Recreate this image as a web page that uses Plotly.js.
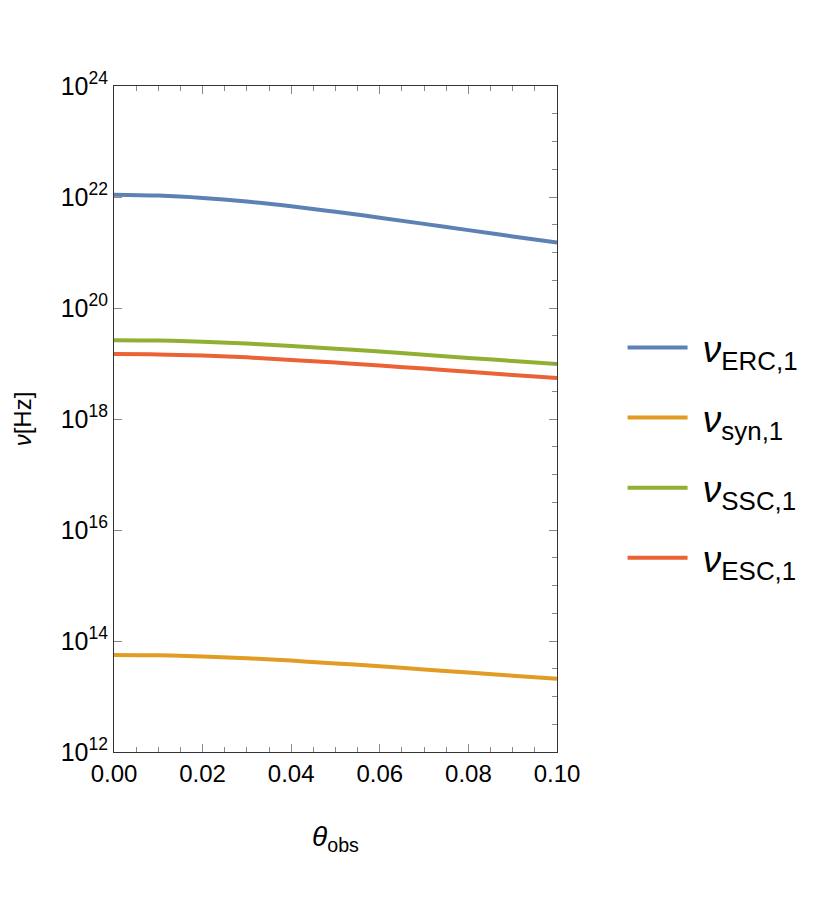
<!DOCTYPE html>
<html>
<head>
<meta charset="utf-8">
<script src="https://cdn.plot.ly/plotly-3.0.1.min.js"></script>
<style>html,body{margin:0;padding:0;background:#fff;}#chart{width:830px;height:916px;}</style>
</head>
<body>
<div id="chart"></div>
<script>
// theta_obs values
const theta = [0, 0.01, 0.02, 0.03, 0.04, 0.05, 0.06, 0.07, 0.08, 0.09, 0.10];
// frequencies [Hz]
const nuERC = [1.10e22, 1.06e22, 9.6e21, 8.26e21, 6.79e21, 5.42e21, 4.24e21, 3.28e21, 2.53e21, 1.95e21, 1.51e21];
const nuSyn = [5.62e13, 5.53e13, 5.27e13, 4.89e13, 4.43e13, 3.95e13, 3.50e13, 3.08e13, 2.70e13, 2.37e13, 2.09e13];
const nuSSC = [2.63e19, 2.59e19, 2.47e19, 2.29e19, 2.07e19, 1.85e19, 1.64e19, 1.44e19, 1.26e19, 1.11e19, 9.8e18];
const nuESC = [1.48e19, 1.46e19, 1.39e19, 1.29e19, 1.16e19, 1.04e19, 9.2e18, 8.1e18, 7.1e18, 6.2e18, 5.5e18];

const seriesNames = ['\u00A0<i>ν</i><sub>ERC,1</sub>', '\u00A0<i>ν</i><sub>syn,1</sub>', '\u00A0<i>ν</i><sub>SSC,1</sub>', '\u00A0<i>ν</i><sub>ESC,1</sub>'];
const seriesColors = ['#5E81B5', '#E19C24', '#8FB032', '#EB6235'];
const seriesData = [nuERC, nuSyn, nuSSC, nuESC];

const yTickVals = [1e12, 1e14, 1e16, 1e18, 1e20, 1e22, 1e24];
const yTickText = ['10<sup>12</sup>', '10<sup>14</sup>', '10<sup>16</sup>', '10<sup>18</sup>', '10<sup>20</sup>', '10<sup>22</sup>', '10<sup>24</sup>'];
const xTickVals = [0, 0.02, 0.04, 0.06, 0.08, 0.10];
const xTickText = ['0.00', '0.02', '0.04', '0.06', '0.08', '0.10'];

const traces = seriesData.map((d, i) => ({
  x: theta, y: d, type: 'scatter', mode: 'lines',
  name: seriesNames[i], legendgroup: 'g' + i,
  line: {color: seriesColors[i], width: 4, shape: 'spline'},
  hoverinfo: 'skip'
}));
traces.push({x: [null], y: [null], yaxis: 'y2', showlegend: false, hoverinfo: 'skip', mode: 'lines'});

const FONT = 'Liberation Sans, Arial, sans-serif';
const layout = {
  width: 830, height: 916,
  paper_bgcolor: '#fff', plot_bgcolor: '#fff',
  margin: {l: 114, r: 273, t: 86, b: 164},
  font: {family: FONT, color: '#000'},
  showlegend: true,
  legend: {x: 1.148, xanchor: 'left', y: 0.449, yanchor: 'middle',
    font: {family: FONT, size: 37, color: '#000'}, tracegroupgap: 19,
    bgcolor: 'rgba(0,0,0,0)', itemwidth: 60},
  xaxis: {
    range: [0, 0.1], showgrid: false, zeroline: false,
    showline: true, linecolor: '#333', linewidth: 1, mirror: 'ticks',
    ticks: 'inside', ticklen: 8, tickcolor: '#888', tickwidth: 1,
    tickvals: xTickVals, ticktext: xTickText,
    tickfont: {family: FONT, size: 24, color: '#000'},
    minor: {dtick: 0.005, tick0: 0, ticks: 'inside', ticklen: 5, tickcolor: '#888', showgrid: false},
    title: {text: '<i>θ</i><sub>obs</sub>', font: {family: FONT, size: 28, color: '#000'}, standoff: 40}
  },
  yaxis: {
    type: 'log', range: [12, 24], showgrid: false, zeroline: false,
    showline: true, linecolor: '#333', linewidth: 1, mirror: false,
    ticks: 'inside', ticklen: 8, tickcolor: '#888', tickwidth: 1,
    tickvals: yTickVals, ticktext: yTickText,
    tickfont: {family: FONT, size: 25, color: '#000'},
    title: {text: '<i>ν</i>[Hz]', font: {family: FONT, size: 24, color: '#000'}, standoff: 22}
  },
  yaxis2: {
    overlaying: 'y', side: 'right', anchor: 'x', range: [12, 24],
    showgrid: false, zeroline: false, showticklabels: false,
    showline: true, linecolor: '#333', linewidth: 1,
    ticks: 'inside', ticklen: 8, tickcolor: '#888', tickwidth: 1,
    tick0: 12, dtick: 2,
    minor: {dtick: 0.5, tick0: 12, ticks: 'inside', ticklen: 5, tickcolor: '#888', showgrid: false}
  }
};

Plotly.newPlot('chart', traces, layout, {displayModeBar: false, staticPlot: true});
</script>
</body>
</html>
